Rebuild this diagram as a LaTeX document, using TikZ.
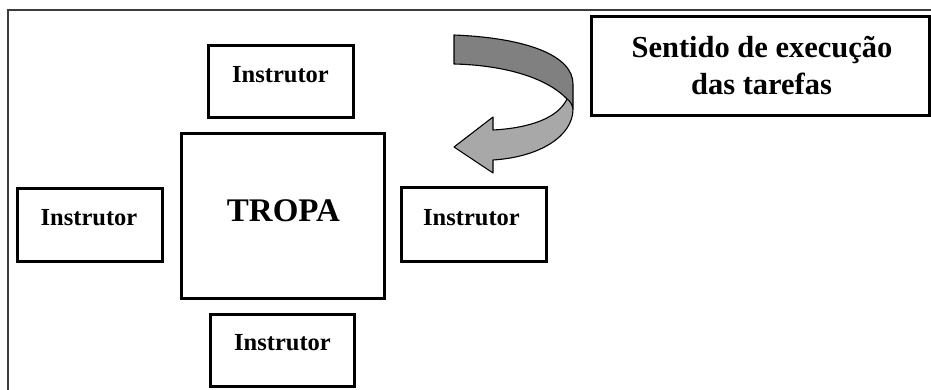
\documentclass[tikz,border=0pt]{standalone}
\usepackage{fontspec}
\setmainfont{Liberation Serif}
\definecolor{darkband}{RGB}{128,128,128}
\definecolor{lightband}{RGB}{168,168,168}
\definecolor{framegray}{RGB}{60,60,60}
\tikzset{
  box/.style={draw=black, line width=3pt, fill=white, inner sep=0pt},
  lbl/.style={inner sep=0pt, anchor=base, font=\bfseries\fontsize{24.5}{29}\selectfont},
  biglbl/.style={inner sep=0pt, anchor=base, font=\bfseries\fontsize{33}{40}\selectfont},
  titlelbl/.style={inner sep=0pt, anchor=base, font=\bfseries\fontsize{30.5}{37}\selectfont},
  band/.style={draw=black, line width=1.1pt, line join=round}
}
\begin{document}
\begin{tikzpicture}[x=1pt,y=-1pt]
\useasboundingbox (0,0) rectangle (931,390);
% outer frame (top and left edges visible)
\draw[framegray, line width=2pt] (8,390) -- (8,10) -- (931,10);

% boxes
\node[box, minimum width=145pt, minimum height=72pt] (itop) at (280.5,82) {};
\node[box, minimum width=203pt, minimum height=164pt] (tropa) at (282.5,216) {};
\node[box, minimum width=145pt, minimum height=72pt] (ileft) at (89.5,225) {};
\node[box, minimum width=144pt, minimum height=72pt] (ibottom) at (282,350) {};
\node[box, minimum width=145pt, minimum height=73pt] (iright) at (473.5,224.5) {};
\node[box, minimum width=338pt, minimum height=99pt] (sentido) at (760,66.5) {};

% texts
\node[lbl] (titop) at (280.5,83) {Instrutor};
\node[biglbl] (ttropa) at (283.5,222) {TROPA};
\node[lbl] (tileft) at (89,225) {Instrutor};
\node[lbl] (tibottom) at (282.5,350) {Instrutor};
\node[lbl] (tiright) at (471.5,225) {Instrutor};
\node[titlelbl] (tsent1) at (762,58) {Sentido de execução};
\node[titlelbl] (tsent2) at (761.5,95) {das tarefas};

% curved ribbon arrow
\fill[lightband] (567,99) .. controls (558,118) and (530,128) .. (493,130)
  -- (493,117) -- (454,147) -- (493,173) -- (493,160)
  .. controls (540,157) and (573,136) .. (573,109)
  .. controls (572,104) and (570,101) .. (567,99) -- cycle;
\draw[band] (567,99) .. controls (558,118) and (530,128) .. (493,130)
  -- (493,117) -- (454,147) -- (493,173) -- (493,160)
  .. controls (540,157) and (573,136) .. (573,109);
\filldraw[band, fill=darkband] (454,35) .. controls (528,38) and (573,56) .. (573,84)
  -- (573,109) .. controls (572,104) and (570,101) .. (567,99)
  .. controls (545,76) and (500,65) .. (454,64) -- cycle;
\end{tikzpicture}
\end{document}
